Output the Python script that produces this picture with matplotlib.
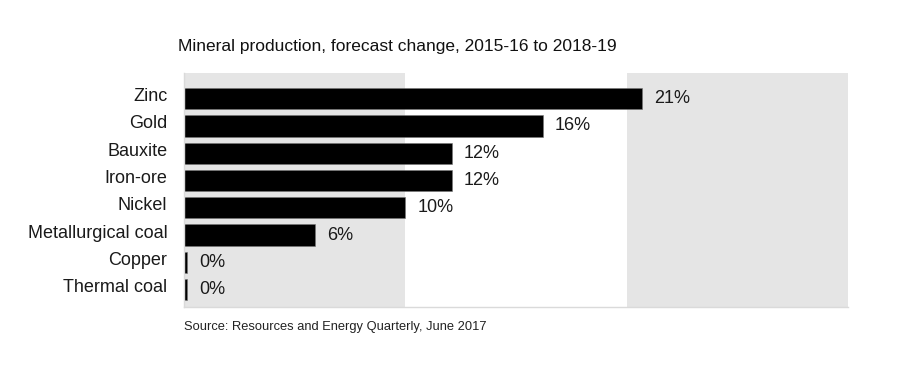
import matplotlib
matplotlib.use("Agg")
import matplotlib.pyplot as plt
from matplotlib.transforms import ScaledTranslation

plt.rcParams['font.family'] = ['Liberation Sans', 'DejaVu Sans']

categories = ["Zinc", "Gold", "Bauxite", "Iron-ore", "Nickel",
              "Metallurgical coal", "Copper", "Thermal coal"]
values = [20.7, 16.2, 12.1, 12.1, 10.0, 5.9, 0.15, 0.15]
value_labels = ["21%", "16%", "12%", "12%", "10%", "6%", "0%", "0%"]
bands = [(0, 10), (20, 30)]

fig = plt.figure(figsize=(9, 3.65), dpi=100)
ax = fig.add_axes([184/900, 1-306.5/365, (848-184)/900, (306.5-73.3)/365])

for a, b in bands:
    ax.axvspan(a, b, color='#e5e5e5', zorder=0, lw=0)

y = list(range(len(categories)))
ax.barh(y, values, height=0.78, color='black', edgecolor='#777777', linewidth=0.4, zorder=2)
for yi, v, lab in zip(y, values, value_labels):
    ax.text(v + 0.55, yi, lab, va='center', ha='left', fontsize=13, color='#1a1a1a')

ax.set_xlim(0, 30)
ax.set_ylim(7.62, -0.93)
ax.set_yticks(y)
ax.set_yticklabels(categories, fontsize=13, color='#1a1a1a')
ax.tick_params(axis='y', length=0, pad=12)
shift = ScaledTranslation(0, 4/100, fig.dpi_scale_trans)
for lbl in ax.get_yticklabels():
    lbl.set_transform(lbl.get_transform() + shift)
ax.set_xticks([])
for s in ['top', 'right']:
    ax.spines[s].set_visible(False)
for s in ['left', 'bottom']:
    ax.spines[s].set_color('#dadada')
    ax.spines[s].set_linewidth(1.0)

fig.text(178/900, 1-47/365, "Mineral production, forecast change, 2015-16 to 2018-19",
         fontsize=12.5, ha='left', va='center', color='#111111')
fig.text(184/900, 1-327/365, "Source: Resources and Energy Quarterly, June 2017",
         fontsize=9.3, ha='left', va='center', color='#222222')

fig.savefig("out.png", dpi=100)
